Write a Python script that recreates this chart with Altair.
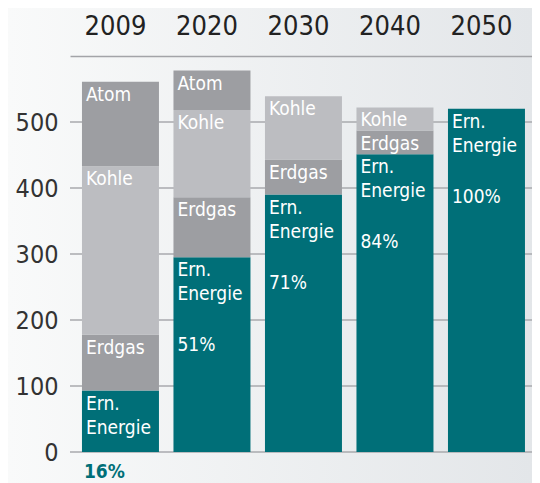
import altair as alt
import pandas as pd

FONT = "DejaVu Sans Condensed, DejaVu Sans"

years = ["2009", "2020", "2030", "2040", "2050"]
ern = [93, 295, 390, 451, 520]
erdgas = [85, 91, 53, 36, 0]
kohle = [255, 132, 96, 35, 0]
atom = [128, 60, 0, 0, 0]
shares = ["16%", "51%", "71%", "84%", "100%"]
sources = ["Ern. Energie", "Erdgas", "Kohle", "Atom"]
seg_labels = ["Ern.\nEnergie", "Erdgas", "Kohle", "Atom"]
colors = ["#006f78", "#9d9ea2", "#bcbdc1", "#9d9ea2"]
y_ticks = [0, 100, 200, 300, 400, 500]

rows = []
for i, yr in enumerate(years):
    base = 0
    for s, lab, vals in zip(sources, seg_labels, [ern, erdgas, kohle, atom]):
        v = vals[i]
        if v > 0:
            rows.append(dict(year=yr, source=s, label=lab, y0=base, y1=base + v))
        base += v
df = pd.DataFrame(rows)
pct_in = pd.DataFrame(dict(year=years[1:], share=shares[1:], top=ern[1:]))
pct_out = pd.DataFrame(dict(year=years[:1], share=shares[:1], base=[0]))
grid_df = pd.DataFrame(dict(v=y_ticks))

W, H = 462, 396

xscale = alt.Scale(domain=years, paddingInner=0.1585, paddingOuter=0.1038, align=0.63)
yscale = alt.Scale(domain=[0, 600], nice=False)

bg = alt.Chart(pd.DataFrame({"a": [0]})).mark_rect(
    fill=alt.LinearGradient(
        gradient="linear",
        stops=[alt.GradientStop(color="#f9fafa", offset=0),
               alt.GradientStop(color="#e3e6e9", offset=1)],
        x1=0, x2=1, y1=0, y2=0),
    strokeWidth=0,
).encode(x=alt.value(-62), x2=alt.value(W), y=alt.value(-48), y2=alt.value(H + 40))

grid = alt.Chart(grid_df).mark_rule(color="#a9aaae", strokeWidth=1.5).encode(
    y=alt.Y("v:Q", scale=yscale),
    x=alt.value(0), x2=alt.value(W),
)

bars = alt.Chart(df).mark_bar().encode(
    x=alt.X("year:N", sort=years, scale=xscale,
            axis=alt.Axis(orient="top", title=None, labelAngle=0, labelFontSize=27,
                          labelColor="#222222", labelFont=FONT, ticks=False,
                          domainColor="#a3a4a8", domainWidth=1.5, labelPadding=16,
                          labelOffset=-5, zindex=1)),
    y=alt.Y("y0:Q", scale=yscale,
            axis=alt.Axis(values=y_ticks, title=None, grid=False, domain=False, ticks=False,
                          labelFontSize=25, labelFont=FONT, labelColor="#333333",
                          labelPadding=12, zindex=1)),
    y2="y1:Q",
    color=alt.Color("source:N", scale=alt.Scale(domain=sources, range=colors), legend=None),
)

seg_text = alt.Chart(df).mark_text(
    align="left", baseline="top", dx=4, dy=4, color="white", fontSize=19,
    font=FONT, lineBreak="\n", lineHeight=24,
).encode(
    x=alt.X("year:N", sort=years, scale=xscale, bandPosition=0),
    y=alt.Y("y1:Q", scale=yscale),
    text="label:N",
)

pct_text = alt.Chart(pct_in).mark_text(
    align="left", baseline="middle", dx=4, dy=88, color="white", fontSize=19, font=FONT,
).encode(
    x=alt.X("year:N", sort=years, scale=xscale, bandPosition=0),
    y=alt.Y("top:Q", scale=yscale),
    text="share:N",
)

pct_out_text = alt.Chart(pct_out).mark_text(
    align="left", baseline="middle", dx=2, dy=20, color="#006f78", fontSize=19,
    font=FONT, fontWeight="bold",
).encode(
    x=alt.X("year:N", sort=years, scale=xscale, bandPosition=0),
    y=alt.Y("base:Q", scale=yscale),
    text="share:N",
)

chart = alt.layer(bg, grid, bars, seg_text, pct_text, pct_out_text).properties(
    width=W, height=H,
    padding={"left": 62, "top": 48, "right": 0, "bottom": 31},
    autosize=alt.AutoSizeParams(type="none"),
).configure_view(strokeWidth=0).configure(background="#ffffff")

chart.save("out.html", embed_options={"renderer": "svg", "actions": False})
